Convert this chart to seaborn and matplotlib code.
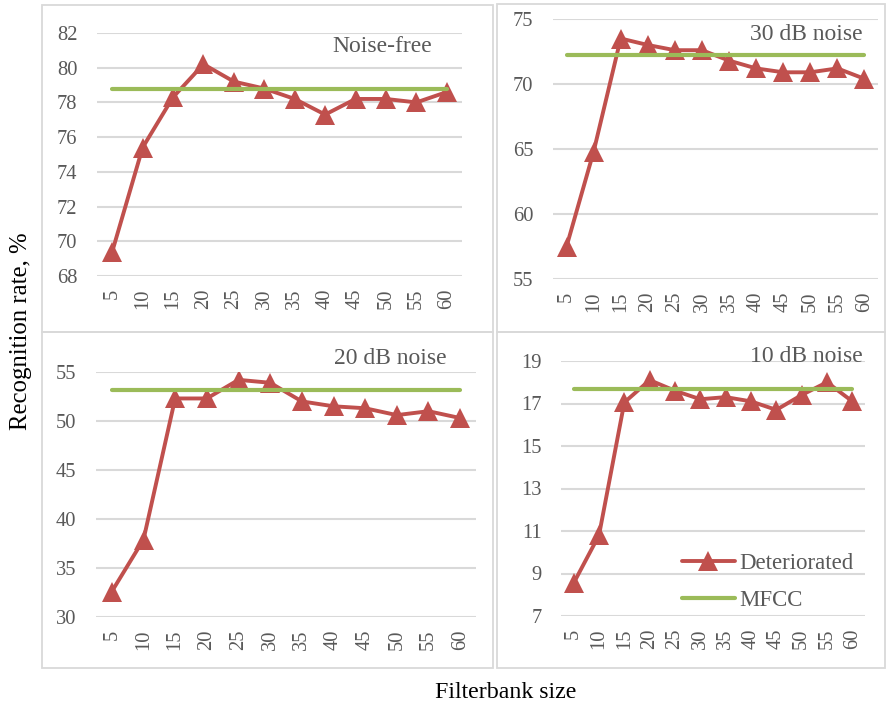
import numpy as np
import pandas as pd
import matplotlib
matplotlib.use("Agg")
import matplotlib.pyplot as plt
from matplotlib.patches import Rectangle
import seaborn as sns

sns.set_theme(style="white")
plt.rcParams['font.family'] = ['Liberation Serif', 'DejaVu Serif']

sizes = ["5", "10", "15", "20", "25", "30", "35", "40", "45", "50", "55", "60"]

noise_free = [69.4, 75.4, 78.3, 80.2, 79.2, 78.8, 78.2, 77.3, 78.2, 78.2, 78.0, 78.6]
noise_free_mfcc = 78.8
db30 = [57.5, 64.8, 73.5, 73.0, 72.6, 72.6, 71.8, 71.2, 70.9, 70.9, 71.2, 70.4]
db30_mfcc = 72.2
db20 = [32.6, 37.9, 52.3, 52.3, 54.2, 53.9, 52.0, 51.5, 51.3, 50.6, 51.0, 50.3]
db20_mfcc = 53.2
db10 = [8.55, 10.8, 17.05, 18.1, 17.6, 17.2, 17.3, 17.1, 16.7, 17.4, 18.0, 17.1]
db10_mfcc = 17.7

titles = ["Noise-free", "30 dB noise", "20 dB noise", "10 dB noise"]
series = [noise_free, db30, db20, db10]
mfccs = [noise_free_mfcc, db30_mfcc, db20_mfcc, db10_mfcc]

W, H = 886, 709
fig = plt.figure(figsize=(W / 100, H / 100), dpi=100)

# plot areas in pixel coords (left, top, right, bottom)
areas = [(97, 33, 462, 276), (553, 19, 878, 279), (96, 372, 476, 617), (561, 361, 865, 616)]
ylims = [(68, 82), (55, 75), (30, 55), (7, 19)]
yticks = [np.arange(68, 83, 2), np.arange(55, 76, 5), np.arange(30, 56, 5), np.arange(7, 20, 2)]
frames = [(42, 5, 493, 332), (497, 4, 885, 332), (42, 332, 493, 668), (497, 332, 885, 668)]
title_pos = [(432, 47), (863, 35), (447, 359), (863, 357)]

red = "#c0504d"
green = "#9bbb59"
grey_text = "#595959"
grid_c = "#d9d9d9"

for (l, t, r, b) in frames:
    fig.patches.append(Rectangle((l / W, 1 - b / H), (r - l) / W, (b - t) / H,
                                 transform=fig.transFigure, fill=False,
                                 edgecolor=grid_c, linewidth=1.3))

axes = []
for i in range(4):
    l, t, r, b = areas[i]
    ax = fig.add_axes([l / W, 1 - b / H, (r - l) / W, (b - t) / H])
    ax.set_facecolor("none")
    df = pd.DataFrame({
        "pos": np.arange(len(sizes)),
        "Deteriorated": series[i],
        "MFCC": [mfccs[i]] * len(sizes),
    })
    sns.lineplot(data=df, x="pos", y="MFCC", ax=ax, color=green, linewidth=3.0,
                 label="MFCC", zorder=3)
    sns.lineplot(data=df, x="pos", y="Deteriorated", ax=ax, color=red, linewidth=2.8,
                 marker="^", markersize=14, markeredgecolor=red, markeredgewidth=0,
                 label="Deteriorated", zorder=2)
    ax.set_xlim(-0.5, len(sizes) - 0.5)
    ax.set_ylim(*ylims[i])
    ax.set_yticks(yticks[i])
    ax.set_yticklabels([str(v) for v in yticks[i]])
    ax.set_xticks(np.arange(len(sizes)))
    ax.set_xticklabels(sizes, rotation=90)
    ax.tick_params(axis="both", length=0, labelsize=14.8, colors=grey_text)
    ax.tick_params(axis="y", pad=14)
    ax.tick_params(axis="x", pad=9)
    ax.yaxis.grid(True, color=grid_c, linewidth=1.5)
    ax.set_axisbelow(True)
    for s in ax.spines.values():
        s.set_visible(False)
    ax.set_xlabel("")
    ax.set_ylabel("")
    ax.get_legend().remove()
    tx, ty = title_pos[i]
    fig.text(tx / W, 1 - ty / H, titles[i], ha="right", va="center",
             fontsize=17, color=grey_text)
    axes.append(ax)

# legend in last panel
h, lab = axes[3].get_legend_handles_labels()
order = [lab.index("Deteriorated"), lab.index("MFCC")]
leg = fig.legend([h[k] for k in order], [lab[k] for k in order],
                 loc="center left", bbox_to_anchor=(682 / W, 1 - 582 / H),
                 bbox_transform=fig.transFigure, frameon=False, fontsize=16.5,
                 handlelength=2.3, handletextpad=0.2, labelspacing=0.72,
                 borderpad=0, borderaxespad=0)
for txt in leg.get_texts():
    txt.set_color(grey_text)

fig.text(21 / W, 1 - 331 / H, "Recognition rate, %", rotation=90, ha="center",
         va="center", fontsize=17.8, color="black")
fig.text(506 / W, 1 - 693 / H, "Filterbank size", ha="center", va="center",
         fontsize=17.2, color="black")

fig.savefig("out.png", dpi=100)
